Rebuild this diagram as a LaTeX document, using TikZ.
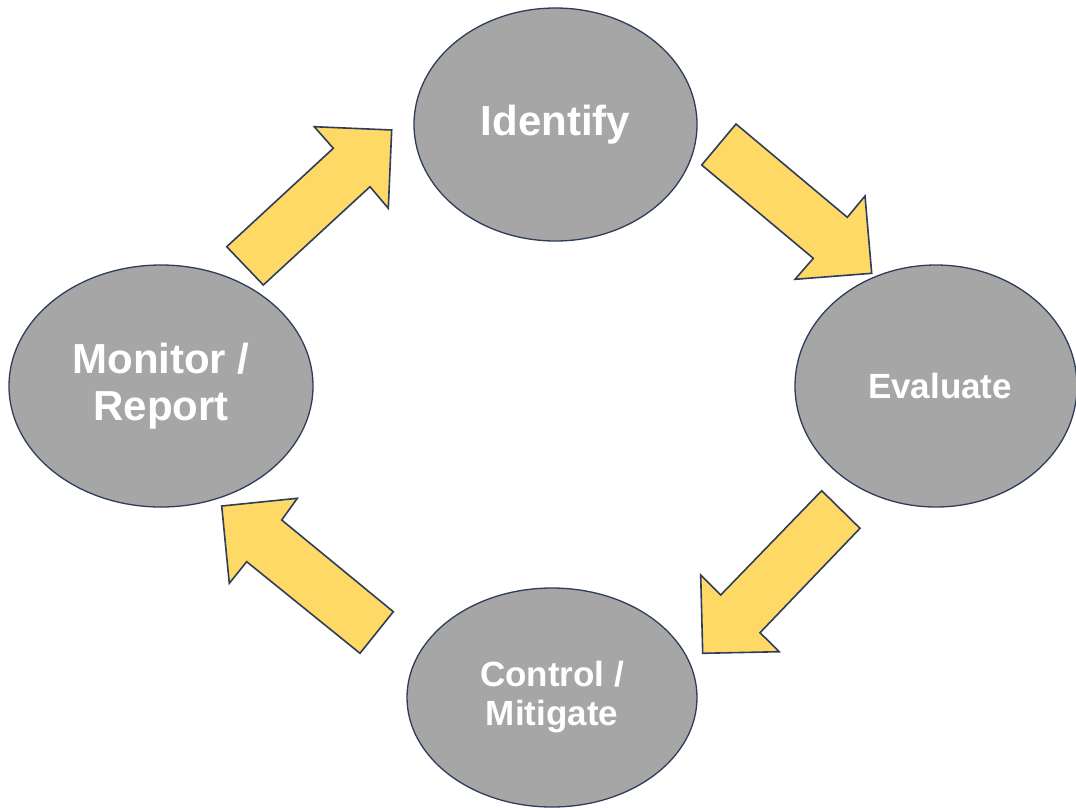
\documentclass[tikz,border=0pt]{standalone}
\usetikzlibrary{shapes.geometric}
\usepackage{fontspec}
\setmainfont{Liberation Sans}
\definecolor{ellfill}{HTML}{A6A6A6}
\definecolor{edge}{HTML}{2F3D5A}
\definecolor{gold}{HTML}{FFD966}
\begin{document}
\begin{tikzpicture}[x=1pt,y=-1pt,
  stage/.style={ellipse, draw=edge, fill=ellfill, line width=1.3pt, inner sep=0pt,
    text=white, align=center},
  bigtext/.style={font=\bfseries\fontsize{42}{47}\selectfont},
  smalltext/.style={font=\bfseries\fontsize{35}{39}\selectfont},
  blockarrow/.style={draw=edge, fill=gold, line width=1.6pt, line join=miter}]
\useasboundingbox (0,0) rectangle (1076,807);
\fill[white] (0,0) rectangle (1076,807);
% stages
\node[stage, bigtext, minimum width=283pt, minimum height=233pt] (identify) at (555.5,124.5)
  {Identify};
\node[stage, smalltext, minimum width=282pt, minimum height=242pt] (evaluate) at (936,386)
  {\hspace*{8pt}Evaluate};
\node[stage, bigtext, minimum width=304pt, minimum height=242pt] (monitor) at (161,386)
  {Monitor /\\ Report};
\node[stage, smalltext, minimum width=290pt, minimum height=219pt] (control) at (552,697.5)
  {Control /\\ Mitigate};
% block arrows
\draw[blockarrow] (226.7,246.7) -- (333.3,148.3) -- (314.3,126.7) -- (391.7,130)
  -- (388.3,208.3) -- (370,186.7) -- (263.3,285) -- cycle;
\draw[blockarrow] (736,124) -- (847.3,217.3) -- (865,196) -- (871.7,273.3)
  -- (795,279.3) -- (813.3,258.3) -- (701.7,165) -- cycle;
\draw[blockarrow] (821.7,490.7) -- (860,528.3) -- (760,632.7) -- (779.3,651.7)
  -- (702.7,653.3) -- (700.7,575) -- (720.7,595) -- cycle;
\draw[blockarrow] (393.3,611.7) -- (360,653.3) -- (246.7,561.7) -- (229.3,583.3)
  -- (221.7,506) -- (297.3,498.3) -- (281.7,520) -- cycle;
\end{tikzpicture}
\end{document}
